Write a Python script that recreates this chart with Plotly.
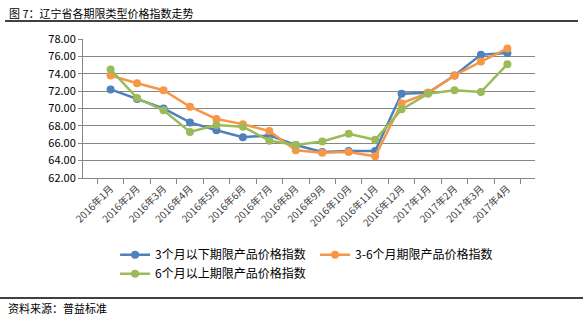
import plotly.graph_objects as go

months = ["2016年1月", "2016年2月", "2016年3月", "2016年4月", "2016年5月", "2016年6月",
          "2016年7月", "2016年8月", "2016年9月", "2016年10月", "2016年11月", "2016年12月",
          "2017年1月", "2017年2月", "2017年3月", "2017年4月"]
below3 = [72.2, 71.1, 70.0, 68.4, 67.5, 66.7, 66.9, 65.8, 65.0, 65.1, 65.1, 71.7, 71.8, 73.8, 76.2, 76.4]
m3to6 = [73.8, 72.9, 72.1, 70.2, 68.8, 68.2, 67.4, 65.2, 64.9, 65.0, 64.5, 70.6, 71.8, 73.8, 75.4, 76.9]
above6 = [74.5, 71.2, 69.8, 67.3, 68.1, 67.9, 66.3, 65.8, 66.2, 67.1, 66.4, 69.9, 71.7, 72.1, 71.9, 75.1]
names = ["3个月以下期限产品价格指数", "3-6个月期限产品价格指数", "6个月以上期限产品价格指数"]
colors = ["#4F81BD", "#F79646", "#9BBB59"]
yticks = [62, 64, 66, 68, 70, 72, 74, 76, 78]

FONT = "Noto Sans CJK SC"
fig = go.Figure()
for nm, vals, c in zip(names, [below3, m3to6, above6], colors):
    fig.add_trace(go.Scatter(x=months, y=vals, name=nm, mode="lines+markers",
                             line=dict(color=c, width=2.5),
                             marker=dict(color=c, size=8)))

fig.update_layout(
    width=588, height=323,
    margin=dict(l=83, r=53, t=39, b=145),
    paper_bgcolor="white", plot_bgcolor="white",
    font=dict(family=FONT, color="#000000"),
    showlegend=True,
    legend=dict(orientation="h", x=0.071, y=-0.448, xanchor="left", yanchor="top",
                font=dict(size=12, color="#000000", family=FONT),
                entrywidth=155, entrywidthmode="pixels",
                itemwidth=30, tracegroupgap=0, bgcolor="rgba(0,0,0,0)"),
    xaxis=dict(type="category", showgrid=False, showline=True, linecolor="#868686", linewidth=1,
               ticks="outside", tickson="boundaries", ticklen=5, tickcolor="#868686",
               tickangle=-45, tickfont=dict(size=10, color="#404040", family=FONT)),
    yaxis=dict(range=[62, 78], tickvals=yticks, ticktext=[f"{v:.2f}" for v in yticks],
               showgrid=True, gridcolor="#868686", gridwidth=1,
               showline=True, linecolor="#868686", linewidth=1,
               ticks="outside", ticklen=4, tickcolor="#868686",
               tickfont=dict(size=11, color="#000000", family=FONT), zeroline=False),
)

fig.add_annotation(text="图 7：辽宁省各期限类型价格指数走势", xref="paper", yref="paper",
                   x=-76/452, y=1 + 26/139, xanchor="left", yanchor="middle", showarrow=False,
                   font=dict(size=11, color="#000000", family=FONT))
fig.add_annotation(text="资料来源：普益标准", xref="paper", yref="paper",
                   x=-77/452, y=-(308-178)/139, xanchor="left", yanchor="middle", showarrow=False,
                   font=dict(size=11, color="#000000", family=FONT))
fig.add_shape(type="line", xref="paper", yref="paper", x0=-78/452, x1=(578-83)/452,
              y0=1 + 18/139, y1=1 + 18/139, line=dict(color="#000000", width=1.5))
fig.add_shape(type="line", xref="paper", yref="paper", x0=-83/452, x1=(583-83)/452,
              y0=-(298-178)/139, y1=-(298-178)/139, line=dict(color="#000000", width=1.5))

fig.write_html("out.html")
